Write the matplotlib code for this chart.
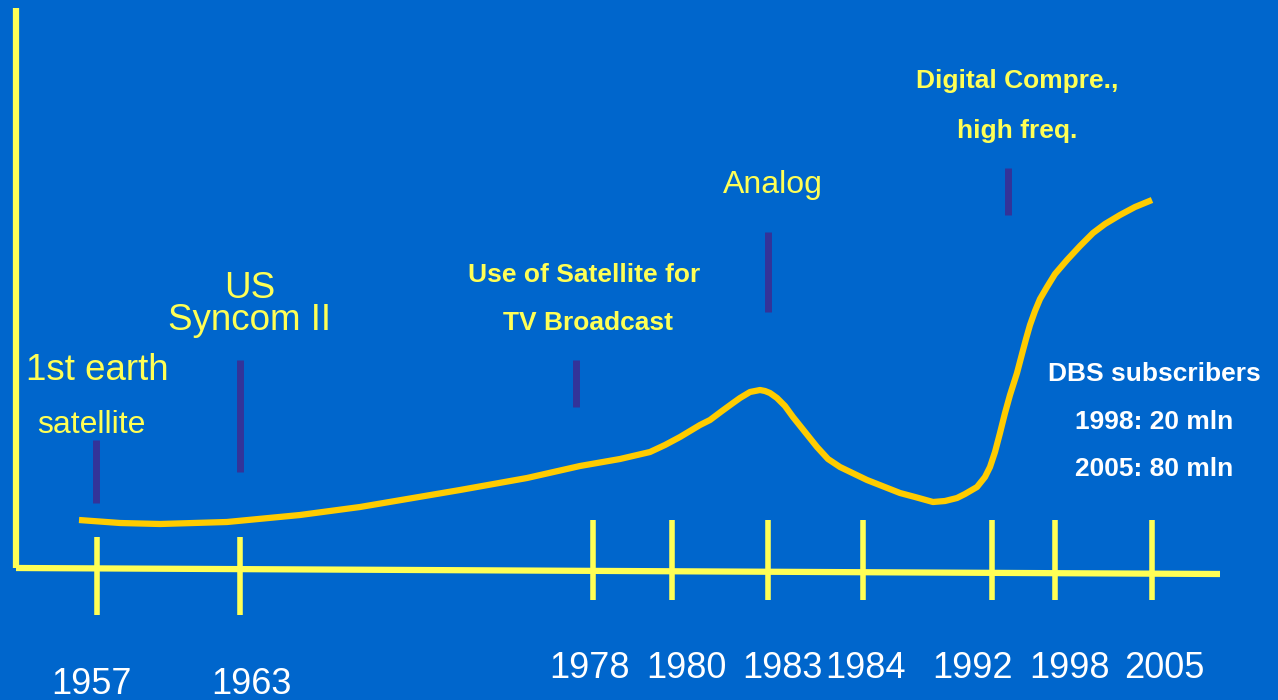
import matplotlib.pyplot as plt

# tick years and where they sit along the (uneven) time axis
years = ['1957', '1963', '1978', '1980', '1983', '1984', '1992', '1998', '2005']
year_x = [97, 240, 593, 672, 768, 863, 992, 1055, 1152]
label_x = [91, 251, 589, 686, 782, 866, 973, 1070, 1164]

# curve (screen-like units, y grows downward)
curve_x = [79, 120, 160, 227, 300, 360, 460, 527, 580, 620, 650, 665, 680, 700, 710,
           722, 733, 740, 745, 750, 755, 760, 765, 770, 777, 785, 793, 805, 817, 828,
           840, 867, 900, 915, 933, 945, 957, 965, 977, 985, 990, 995, 1000, 1005,
           1010, 1017, 1022, 1026, 1030, 1035, 1040, 1047, 1055, 1067, 1080, 1093,
           1105, 1120, 1135, 1152]
curve_y = [520, 523, 524, 522, 515, 507, 490, 478, 466, 459, 452, 445, 437, 425, 420,
           411, 403, 398, 395, 392, 391, 390, 391, 393, 398, 406, 417, 432, 447, 459,
           467, 480, 493, 497, 502, 501, 498, 494, 487, 477, 467, 452, 433, 413,
           395, 373, 354, 339, 325, 311, 299, 287, 274, 260, 246, 233,
           224, 215, 207, 200]

# event markers (x, top, bottom)
event_x = [96, 240, 576, 768, 1008]
event_top = [440, 360, 360, 232, 168]
event_bot = [503, 472, 407, 312, 215]

bg = '#0066CC'
yellow = '#FFFF55'

fig = plt.figure(figsize=(12.78, 7), dpi=100, facecolor=bg)
ax = fig.add_axes([0, 0, 1, 1])
ax.set_facecolor(bg)
ax.set_xlim(0, 1278)
ax.set_ylim(700, 0)
ax.axis('off')

plt.rcParams['font.family'] = ['Liberation Sans', 'DejaVu Sans']

# axes
ax.plot([16, 16], [8, 568], color=yellow, lw=4.5, solid_capstyle='butt')
ax.plot([16, 1220], [568, 574], color=yellow, lw=4.5, solid_capstyle='butt')

# year ticks and labels
for i, (yr, x, lx) in enumerate(zip(years, year_x, label_x)):
    if i < 2:
        ax.plot([x, x], [537, 615], color=yellow, lw=4, solid_capstyle='butt')
        ax.text(lx, 685, yr, color='white', fontsize=26, ha='center', va='center')
    else:
        ax.plot([x, x], [520, 600], color=yellow, lw=4, solid_capstyle='butt')
        ax.text(lx, 668, yr, color='white', fontsize=26, ha='center', va='center')

# event markers
for x, t, b in zip(event_x, event_top, event_bot):
    ax.plot([x, x], [t, b], color='#333399', lw=5, solid_capstyle='butt')

# curve
ax.plot(curve_x, curve_y, color='#FFCC00', lw=4.5, solid_capstyle='butt',
        solid_joinstyle='round')

# labels
ax.text(97, 370, '1st earth', color=yellow, fontsize=26.5, ha='center', va='center')
ax.text(91, 425, 'satellite', color=yellow, fontsize=23, ha='center', va='center')
ax.text(250, 288, 'US', color=yellow, fontsize=26.5, ha='center', va='center')
ax.text(250, 320, 'Syncom II', color=yellow, fontsize=26.5, ha='center', va='center')
ax.text(584, 275, 'Use of Satellite for', color=yellow, fontsize=19, fontweight='bold',
        ha='center', va='center')
ax.text(588, 323, 'TV Broadcast', color=yellow, fontsize=19, fontweight='bold',
        ha='center', va='center')
ax.text(773, 185, 'Analog', color=yellow, fontsize=23, ha='center', va='center')
ax.text(1017, 81, 'Digital Compre.,', color=yellow, fontsize=19, fontweight='bold',
        ha='center', va='center')
ax.text(1017, 131, 'high freq.', color=yellow, fontsize=19, fontweight='bold',
        ha='center', va='center')
ax.text(1154, 374, 'DBS subscribers', color='white', fontsize=19, fontweight='bold',
        ha='center', va='center')
ax.text(1154, 422, '1998: 20 mln', color='white', fontsize=19, fontweight='bold',
        ha='center', va='center')
ax.text(1154, 469, '2005: 80 mln', color='white', fontsize=19, fontweight='bold',
        ha='center', va='center')

fig.savefig('out.png', dpi=100, facecolor=bg)
